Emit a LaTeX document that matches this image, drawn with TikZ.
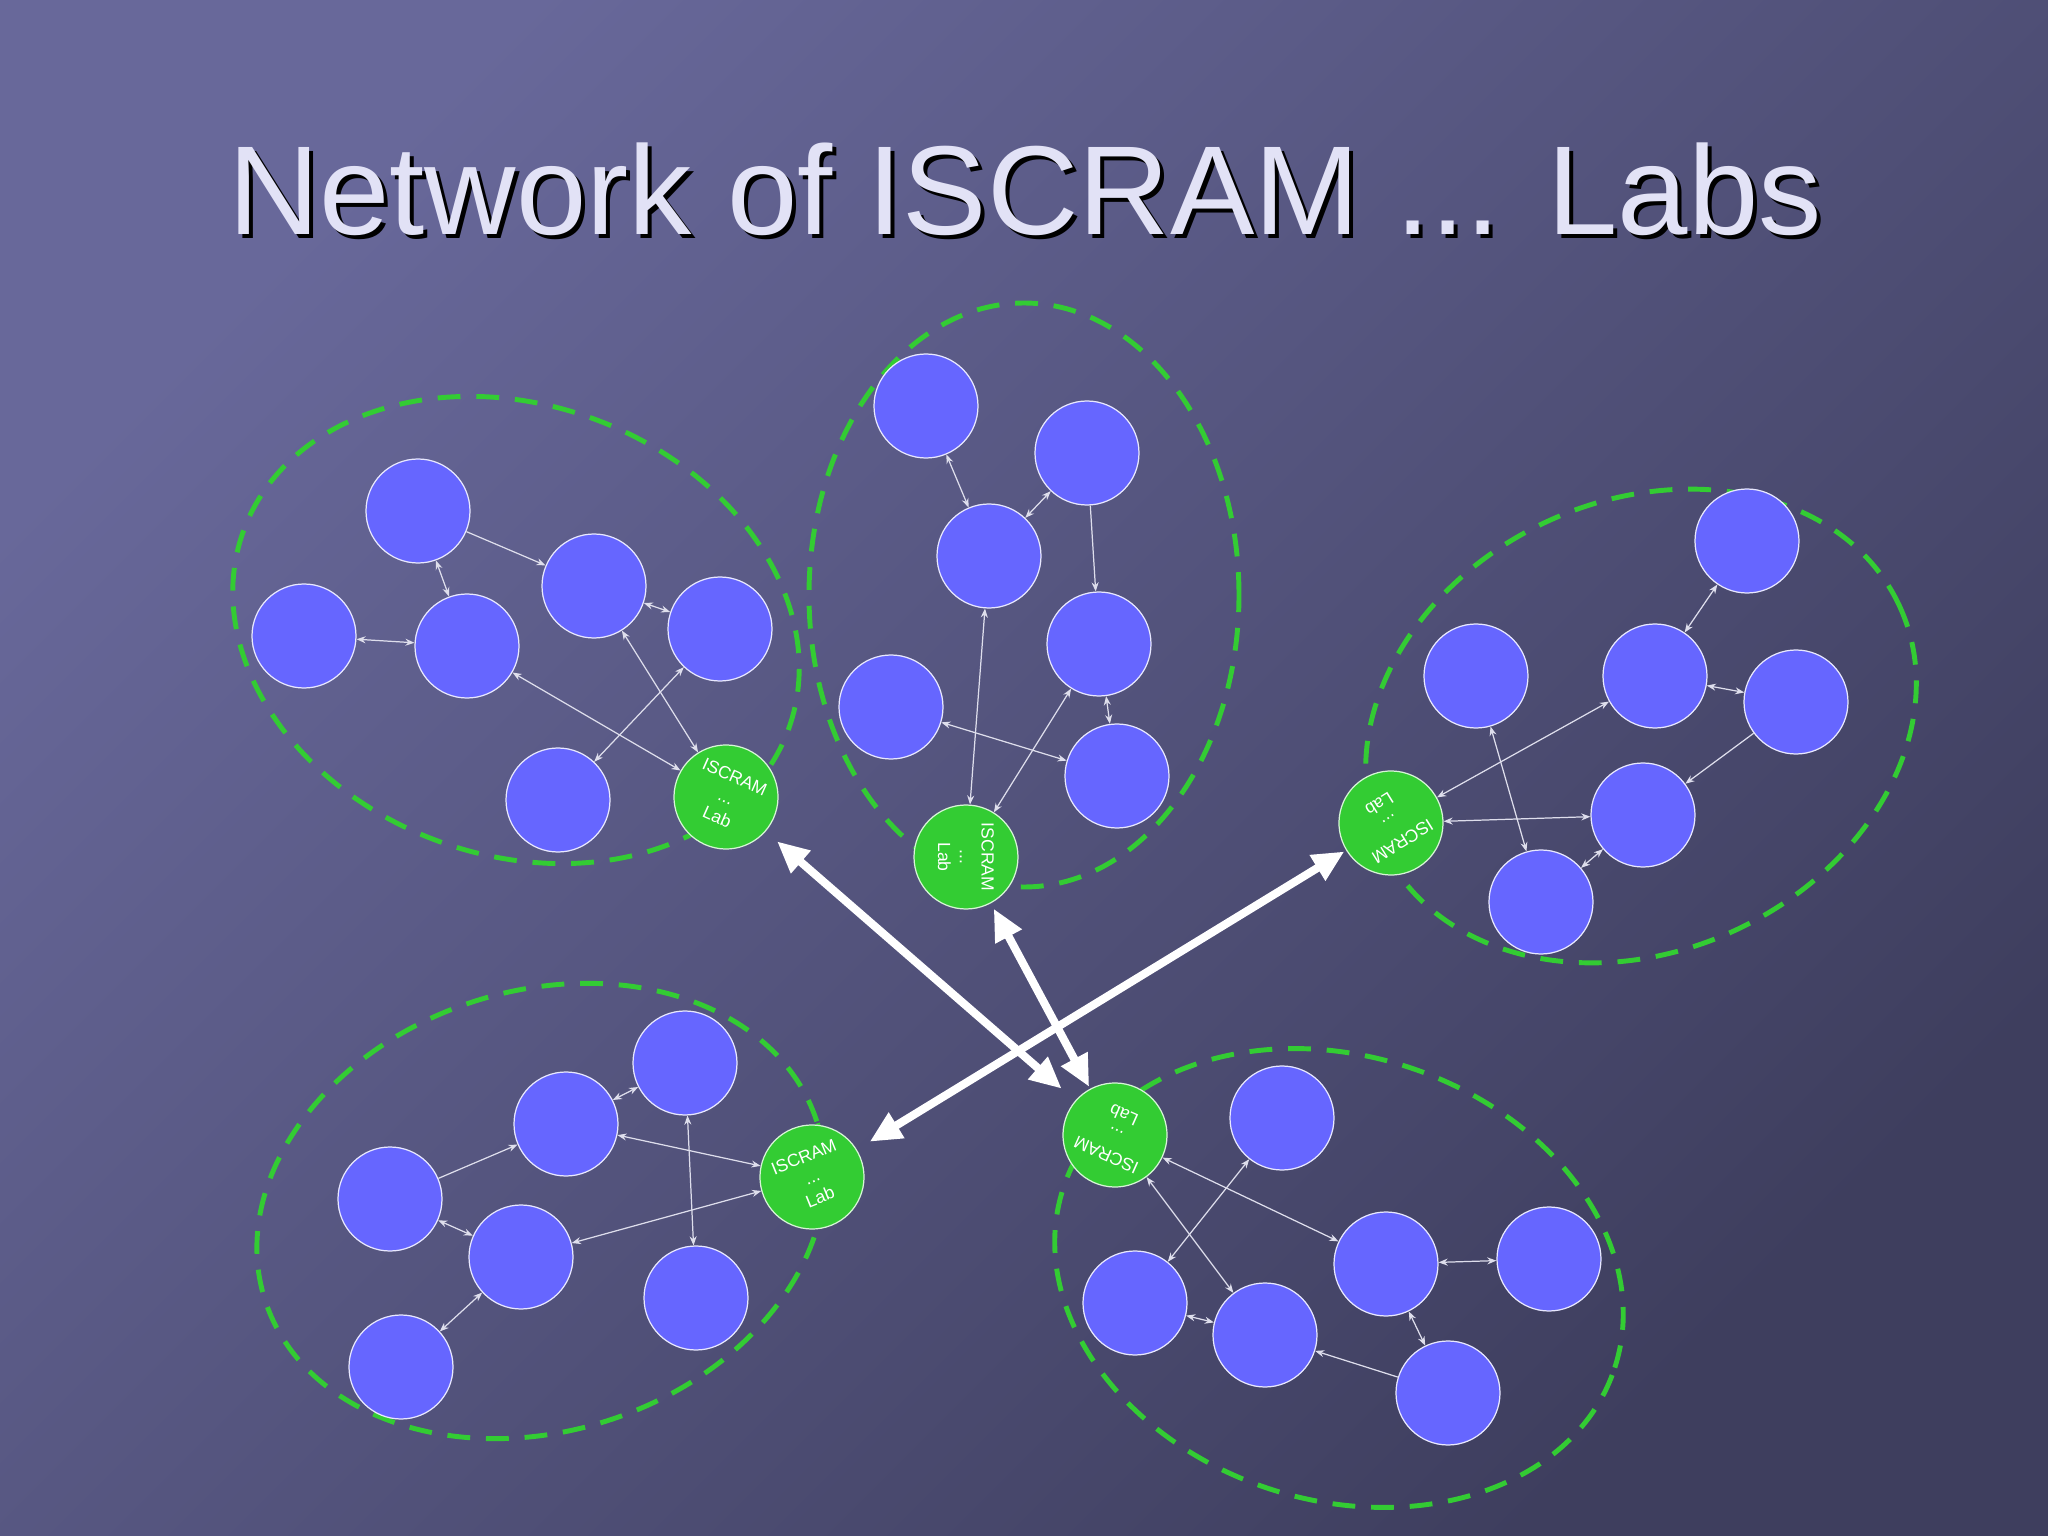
\documentclass[tikz,border=0pt]{standalone}
\usepackage{fontspec}
\setmainfont{Liberation Sans}
\usetikzlibrary{arrows.meta}
\definecolor{peerblue}{RGB}{102,102,255}
\definecolor{labgreen}{RGB}{51,204,51}
\definecolor{bgtop}{RGB}{104,104,154}
\definecolor{bgbot}{RGB}{62,62,94}
\definecolor{titlefg}{RGB}{226,226,246}
\definecolor{linkgray}{RGB}{222,222,236}
\begin{document}
\begin{tikzpicture}
	\tikzstyle{every node}=[font=\fontsize{5}{6.2}\selectfont]
	\tikzstyle{peer}=[circle, fill=peerblue, draw=white!85!peerblue, line width=0.35pt, minimum size=1.04cm, inner sep=0pt]
	\tikzstyle{lab}=[circle, fill=labgreen, draw=white!80!labgreen, line width=0.35pt, minimum size=1.04cm, inner sep=0pt, text=white, align=center]
	\tikzstyle{cloud}=[draw=labgreen, line width=1.4pt, dash pattern=on 6.5pt off 4.5pt]
	\tikzstyle{link}=[draw=linkgray, line width=0.35pt, >={Stealth[length=2.6pt,width=2pt]}]
	\tikzstyle{bigarrow}=[draw=white, line width=2.3pt, {Triangle[length=9pt,width=8pt]}-{Triangle[length=9pt,width=8pt]}]

	\shade [top color=bgtop, bottom color=bgbot, shading angle=45] (0,0) rectangle (20.48,-15.36);
	\useasboundingbox (0,0) rectangle (20.48,-15.36);

	\node (titleshadow) [anchor=base, text=black, font=\fontsize{36}{40}\selectfont] at (10.29,-2.39) {Network of ISCRAM ... Labs};
	\node (title) [anchor=base, text=titlefg, font=\fontsize{36}{40}\selectfont] at (10.25,-2.35) {Network of ISCRAM ... Labs};

	\draw [cloud, rotate around={-20:(5.16,-6.30)}] (5.16,-6.30) ellipse (2.90 and 2.25);
	\draw [cloud] (10.24,-5.95) ellipse (2.15 and 2.92);
	\draw [cloud, rotate around={25:(16.41,-7.26)}] (16.41,-7.26) ellipse (2.85 and 2.25);
	\draw [cloud, rotate around={18:(5.41,-12.11)}] (5.41,-12.11) ellipse (2.90 and 2.20);
	\draw [cloud, rotate around={-18:(13.39,-12.78)}] (13.39,-12.78) ellipse (2.90 and 2.22);

	\node (a1) [peer] at (4.18,-5.11) {};
	\node (a2) [peer] at (3.04,-6.36) {};
	\node (a3) [peer] at (4.67,-6.46) {};
	\node (a4) [peer] at (5.94,-5.86) {};
	\node (a5) [peer] at (7.20,-6.29) {};
	\node (a6) [peer] at (5.58,-8.00) {};
	\node (ga) [lab, rotate=-24] at (7.26,-7.97) {ISCRAM\\...\\Lab};

	\node (b1) [peer] at (9.26,-4.06) {};
	\node (b2) [peer] at (10.87,-4.53) {};
	\node (b3) [peer] at (9.89,-5.56) {};
	\node (b4) [peer] at (10.99,-6.44) {};
	\node (b5) [peer] at (8.91,-7.07) {};
	\node (b6) [peer] at (11.17,-7.76) {};
	\node (gb) [lab, rotate=-90] at (9.66,-8.57) {ISCRAM\\...\\Lab};

	\node (c1) [peer] at (17.47,-5.41) {};
	\node (c2) [peer] at (14.76,-6.76) {};
	\node (c3) [peer] at (16.55,-6.76) {};
	\node (c4) [peer] at (17.96,-7.02) {};
	\node (c5) [peer] at (16.43,-8.15) {};
	\node (c6) [peer] at (15.41,-9.02) {};
	\node (gc) [lab, rotate=212] at (13.91,-8.23) {ISCRAM\\...\\Lab};

	\node (d1) [peer] at (6.85,-10.63) {};
	\node (d2) [peer] at (5.66,-11.24) {};
	\node (d3) [peer] at (3.90,-11.99) {};
	\node (d4) [peer] at (5.21,-12.57) {};
	\node (d5) [peer] at (6.96,-12.98) {};
	\node (d6) [peer] at (4.01,-13.67) {};
	\node (gd) [lab, rotate=22] at (8.12,-11.77) {ISCRAM\\...\\Lab};

	\node (e1) [peer] at (12.82,-11.18) {};
	\node (e2) [peer] at (11.35,-13.03) {};
	\node (e3) [peer] at (12.65,-13.35) {};
	\node (e4) [peer] at (13.86,-12.64) {};
	\node (e5) [peer] at (15.49,-12.59) {};
	\node (e6) [peer] at (14.48,-13.93) {};
	\node (ge) [lab, rotate=156] at (11.15,-11.35) {ISCRAM\\...\\Lab};

	\draw [link, ->] (a1) -- (a4);
	\draw [link, <->] (a1) -- (a3);
	\draw [link, <->] (a2) -- (a3);
	\draw [link, <->] (a4) -- (a5);
	\draw [link, <->] (a3) -- (ga);
	\draw [link, <->] (a4) -- (ga);
	\draw [link, <->] (a5) -- (a6);

	\draw [link, <->] (b1) -- (b3);
	\draw [link, <->] (b2) -- (b3);
	\draw [link, ->] (b2) -- (b4);
	\draw [link, <->] (b3) -- (gb);
	\draw [link, <->] (b4) -- (gb);
	\draw [link, <->] (b4) -- (b6);
	\draw [link, <->] (b5) -- (b6);

	\draw [link, <->] (c1) -- (c3);
	\draw [link, <->] (c3) -- (c4);
	\draw [link, <->] (c3) -- (gc);
	\draw [link, <->] (c2) -- (c6);
	\draw [link, ->] (c4) -- (c5);
	\draw [link, <->] (c5) -- (gc);
	\draw [link, <->] (c5) -- (c6);

	\draw [link, <->] (d1) -- (d2);
	\draw [link, ->] (d3) -- (d2);
	\draw [link, <->] (d2) -- (gd);
	\draw [link, <->] (d1) -- (d5);
	\draw [link, <->] (d3) -- (d4);
	\draw [link, <->] (d4) -- (gd);
	\draw [link, <->] (d4) -- (d6);

	\draw [link, <->] (ge) -- (e4);
	\draw [link, <->] (ge) -- (e3);
	\draw [link, <->] (e1) -- (e2);
	\draw [link, <->] (e2) -- (e3);
	\draw [link, <->] (e4) -- (e5);
	\draw [link, <->] (e4) -- (e6);
	\draw [link, ->] (e6) -- (e3);

	\draw [bigarrow, shorten <=0.15cm, shorten >=0.18cm] (ga) -- (ge);
	\draw [bigarrow, shorten <=0.06cm, shorten >=0.02cm] (gb) -- (ge);
	\draw [bigarrow, shorten <=0.02cm, shorten >=0.15cm] (gc) -- (gd);
\end{tikzpicture}
\end{document}
